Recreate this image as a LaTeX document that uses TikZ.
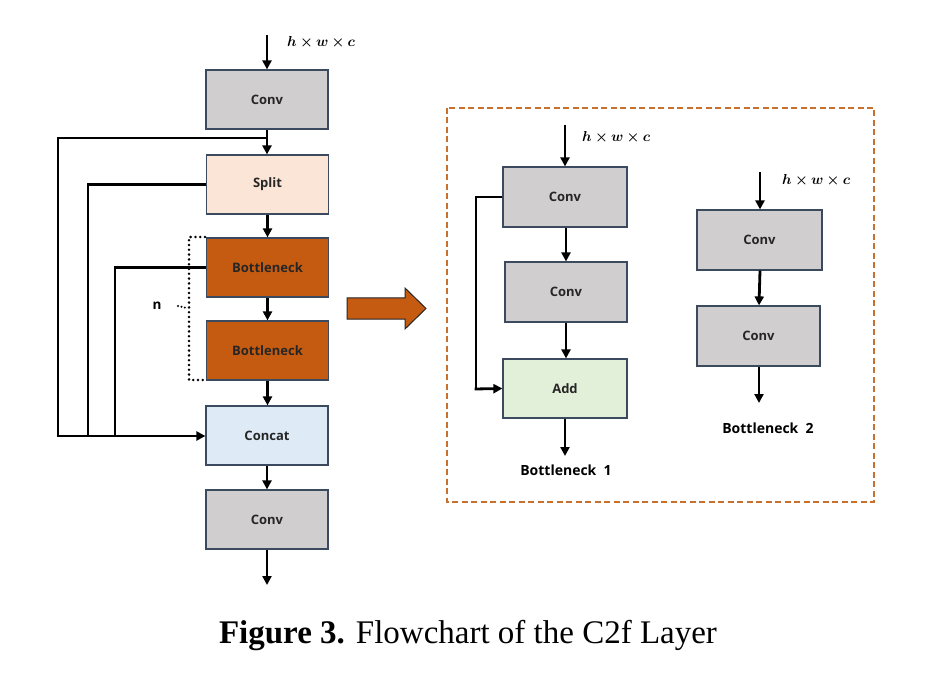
\documentclass[tikz,border=0pt]{standalone}
\usepackage{amsmath,bm}
\usepackage{fontspec}
\setmainfont{Liberation Serif}
\newfontfamily\boxfont{Open Sans}
\usetikzlibrary{arrows.meta}
\definecolor{convgray}{HTML}{D0CECE}
\definecolor{splitpeach}{HTML}{FBE5D6}
\definecolor{bneck}{HTML}{C55A11}
\definecolor{concatblue}{HTML}{DEEBF7}
\definecolor{addgreen}{HTML}{E2F0D9}
\definecolor{boxedge}{HTML}{3B4A5E}
\definecolor{dashorange}{HTML}{C8702E}
\begin{document}
\begin{tikzpicture}[x=1pt,y=-1pt,
  blk/.style={draw=boxedge,line width=1.2pt,minimum width=122pt,minimum height=59pt,inner sep=0pt,font=\boxfont\bfseries\fontsize{13}{15}\selectfont,text=black!85},
  conn/.style={line width=2.8pt,-{Triangle[length=9pt,width=9pt]}},
  plainline/.style={line width=2.8pt},
  dimlbl/.style={font=\fontsize{14}{16}\selectfont,anchor=west,inner sep=0pt},
  caplbl/.style={font=\boxfont\bfseries\fontsize{14}{16}\selectfont,inner sep=0pt}
]
\useasboundingbox (0,0) rectangle (935,687);
% left column
\coordinate (inL) at (267,35);
\node[blk,fill=convgray] (c1) at (267,99.5) {Conv};
\node[blk,fill=splitpeach] (sp) at (267.5,184.5) {Split};
\node[blk,fill=bneck] (b1) at (267.5,267.5) {Bottleneck};
\node[blk,fill=bneck] (b2) at (267.5,350.5) {Bottleneck};
\node[blk,fill=concatblue] (cc) at (267,435.5) {Concat};
\node[blk,fill=convgray] (c2) at (267,519.5) {Conv};
\coordinate (outL) at (267,585);
\node[dimlbl] (d1) at (287,42) {$\bm{h\times w\times c}$};

\draw[conn] (inL) -- (c1.north);
\draw[conn] (c1.south) -- (sp.north -| c1.south);
\draw[conn] (sp.south) -- (b1.north);
\draw[conn] (b1.south) -- (b2.north);
\draw[conn] (b2.south) -- (cc.north -| b2.south);
\draw[conn] (cc.south) -- (c2.north);
\draw[conn] (c2.south) -- (outL);

\coordinate (j1) at (267,138);
\draw[plainline] (j1) -- (58,138) -- (58,436);
\draw[plainline] (sp.west) -- (88,184.5) -- (88,436);
\draw[plainline] (b1.west) -- (115,267.5) -- (115,436);
\draw[conn] (56.6,436) -- (cc.west |- 0,436);

% dotted brace
\draw[line width=2.8pt,line cap=round,dash pattern=on 0pt off 4.8pt] (205,237) -- (189,237) -- (189,380) -- (205,380);
\draw[line width=2.2pt,line cap=round,dash pattern=on 0pt off 3.5pt] (178,306) -- (187,308);
\node[font=\boxfont\bfseries\fontsize{13.5}{15}\selectfont,inner sep=0pt] (nlbl) at (157,306) {n};

% big arrow
\draw[draw=black!85,line width=1pt,fill=bneck] (347,298) -- (405,298) -- (405,288) -- (426,308.5) -- (405,329) -- (405,319) -- (347,319) -- cycle;

% dashed frame
\draw[dashorange,line width=2.4pt,dash pattern=on 6pt off 3.5pt] (447,108) rectangle (874,502);

% bottleneck 1
\coordinate (inA) at (565,125);
\node[blk,fill=convgray,minimum width=124pt,minimum height=60pt] (ca) at (565,197) {Conv};
\node[blk,fill=convgray,minimum width=122pt,minimum height=60pt] (cb) at (566,292) {Conv};
\node[blk,fill=addgreen,minimum width=124pt,minimum height=59pt] (ad) at (565,388.5) {Add};
\coordinate (outA) at (565,456);
\node[dimlbl] (d2) at (582,137) {$\bm{h\times w\times c}$};
\node[caplbl] (l1) at (566,470) {Bottleneck\ \ 1};
\draw[conn] (inA) -- (ca.north);
\draw[conn] (ca.south -| 566,0) -- (cb.north);
\draw[conn] (cb.south) -- (ad.north -| cb.south);
\draw[conn] (ad.south) -- (outA);
\draw[plainline] (ca.west) -- (476,197) -- (476,389);
\draw[conn] (474.6,389) -- (ad.west);

% bottleneck 2
\coordinate (inB) at (760,172);
\node[blk,fill=convgray,minimum width=125pt,minimum height=60pt] (cc1) at (759.5,240) {Conv};
\node[blk,fill=convgray,minimum width=123pt,minimum height=60pt] (cd) at (758.5,336) {Conv};
\coordinate (outB) at (759,403);
\node[dimlbl] (d3) at (782,180) {$\bm{h\times w\times c}$};
\node[caplbl] (l2) at (768,428) {Bottleneck\ \ 2};
\draw[conn] (inB) -- (cc1.north -| inB);
\draw[conn] (cc1.south -| 760,0) -- (cd.north -| 759,0);
\draw[conn] (cd.south -| 759,0) -- (outB);

% caption
\node[font=\fontsize{33}{38}\selectfont,inner sep=0pt] (capt) at (468,636) {\textbf{Figure 3.} Flowchart of the C2f Layer};
\end{tikzpicture}
\end{document}
